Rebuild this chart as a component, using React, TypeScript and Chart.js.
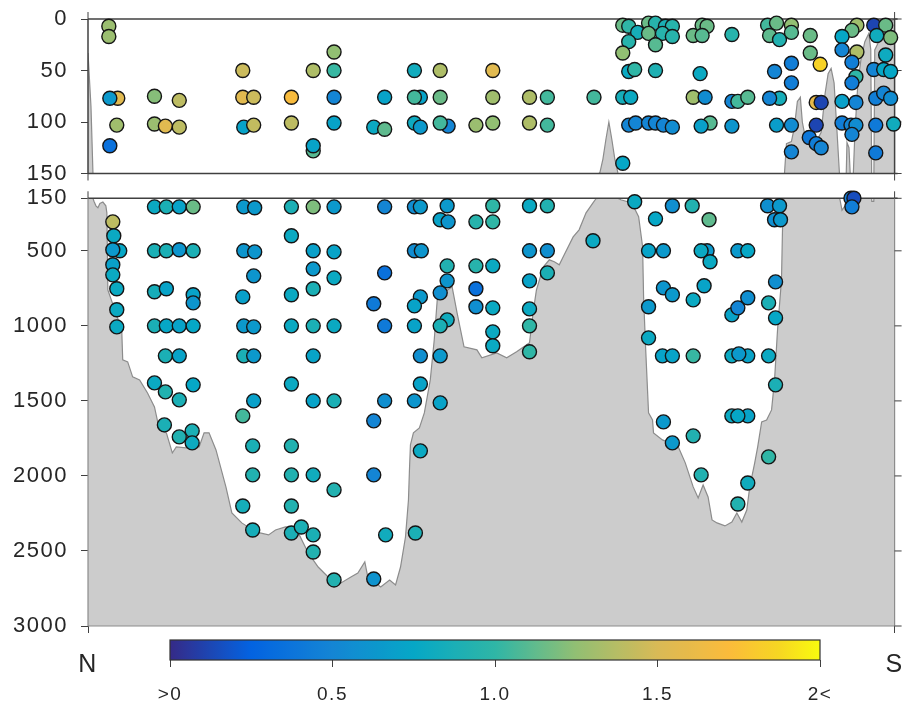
import React, { useEffect, useRef } from "react";
import { Chart, registerables } from "chart.js";

Chart.register(...registerables);

// ---------------- data ----------------
// distance along the section, N (0) to S (813), arbitrary section units
const sectionEnds = [0, 813];
const endLabels = ["N", "S"];
const upperRange = [0, 150];
const lowerRange = [150, 3000];
const upperTicks = [0, 50, 100, 150];
const lowerTicks = [150, 500, 1000, 1500, 2000, 2500, 3000];
const colorbarRange = [0, 2];
const colorbarTicks = [0, 0.5, 1, 1.5, 2];
const colorbarLabels = [">0", "0.5", "1.0", "1.5", "2<"];

// sea floor profile (depth, m)
const bathyDist = [
  0, 3, 5, 6, 8, 10, 12, 15, 18, 19,
  20, 34, 35, 40, 45, 52, 60, 67, 72, 79,
  85, 89, 99, 112, 117, 122, 129, 139, 145, 155,
  169, 182, 189, 199, 205, 212, 222, 232, 242, 255,
  265, 272, 279, 282, 295, 304, 310, 315, 320, 323,
  324, 325, 328, 334, 339, 345, 349, 352, 360, 367,
  372, 379, 392, 397, 412, 422, 432, 445, 449, 452,
  459, 465, 470, 475, 479, 489, 495, 502, 509, 512,
  516, 519, 522, 525, 528, 531, 534, 537, 544, 549,
  555, 559, 560, 562, 565, 569, 570, 579, 595, 602,
  610, 615, 620, 625, 629, 634, 642, 649, 654, 659,
  664, 667, 672, 675, 679, 684, 689, 692, 695, 699,
  700, 701, 702, 704, 709, 712, 715, 718, 720, 723,
  728, 733, 739, 743, 746, 749, 752, 755, 758, 760,
  763, 765, 767, 769, 771, 773, 776, 779, 783, 787,
  789, 790, 792, 793, 797, 801, 806, 813,
];
const bathyDepth = [
  33, 85, 150, 170, 200, 213, 185, 175, 200, 247,
  760, 1027, 1227, 1240, 1340, 1360, 1447, 1540, 1693, 1713,
  1847, 1807, 1813, 1807, 1713, 1713, 1827, 2073, 2247, 2313,
  2373, 2393, 2360, 2340, 2340, 2380, 2513, 2607, 2673, 2713,
  2673, 2647, 2573, 2673, 2740, 2693, 2727, 2607, 2407, 2160,
  1960, 1793, 1713, 1680, 1580, 1360, 1093, 827, 773, 740,
  913, 1140, 1160, 1213, 1180, 1213, 1173, 1113, 893, 760,
  607, 560, 573, 593, 540, 407, 360, 247, 180, 153,
  149, 136, 117, 100, 117, 136, 149, 160, 173, 193,
  273, 473, 807, 1140, 1580, 1627, 1713, 1760, 1807, 1913,
  2073, 2147, 2060, 2140, 2293, 2313, 2333, 2307, 2247, 2307,
  2227, 2073, 1913, 1807, 1640, 1627, 1560, 1360, 1027, 693,
  360, 160, 150, 121, 119, 105, 80, 76, 100, 115,
  119, 121, 110, 72, 53, 48, 62, 110, 160, 230,
  200, 120, 125, 165, 160, 110, 62, 40, 22, 14,
  30, 170, 170, 30, 22, 12, 4, 0,
];

// samples in the upper 150 m
const shallowDist = [
  21, 21, 30, 22, 29, 22,
  67, 67, 78, 92, 92,
  156, 156, 167, 157, 167, 205, 205,
  227, 227, 227, 248, 248, 248, 248,
  299, 288, 299, 329, 335, 329, 355, 355, 329, 335, 363, 355,
  408, 408, 391, 408, 445, 463, 445, 463, 510,
  539, 545, 554, 545, 539, 565, 572, 582, 589, 565, 579, 589, 572, 610, 619, 624, 619, 649,
  545, 551, 572, 617, 539, 547, 610, 622, 649, 655, 665,
  539, 545, 552, 565, 572, 580, 589, 627, 618, 649,
  685, 694, 709, 687, 697, 709, 728, 728, 738, 709, 692, 709, 697, 687, 694, 709, 709,
  734, 739, 734, 727, 734, 739,
  775, 770, 760, 760, 775, 770, 774, 770, 760, 774, 760, 769, 774, 770,
  792, 804, 795, 809, 804, 792, 802, 809, 794, 802, 809, 794, 812, 794,
];
const shallowDepth = [
  7, 17, 77, 77, 103, 123,
  75, 102, 104, 79, 105,
  50, 76, 76, 105, 103, 76, 101,
  50, 128, 123, 32, 50, 76, 101,
  76, 105, 107, 50, 76, 76, 50, 76, 101, 105, 104, 101,
  50, 76, 103, 101, 76, 76, 101, 103, 76,
  6, 7, 13, 22, 33, 4, 4, 7, 7, 14, 14, 17, 25, 16, 6, 7, 16, 15,
  51, 49, 50, 53, 76, 76, 76, 76, 80, 80, 76,
  140, 103, 101, 101, 101, 103, 105, 101, 104, 104,
  6, 4, 6, 16, 20, 13, 16, 33, 44, 43, 51, 62, 77, 77, 103, 103, 129,
  81, 81, 103, 115, 121, 125,
  6, 11, 17, 30, 32, 42, 56, 62, 80, 81, 101, 103, 103, 112,
  6, 6, 16, 18, 35, 49, 49, 51, 77, 72, 77, 103, 102, 130,
];
const shallowValue = [
  1.28, 1.28, 1.55, 0.65, 1.3, 0.35,
  1.22, 1.28, 1.55, 1.4, 1.4,
  1.45, 1.55, 1.45, 0.72, 1.42, 1.7, 1.4,
  1.35, 1.1, 0.72, 1.25, 1.02, 0.5, 0.72,
  0.72, 0.78, 1.12, 0.82, 0.72, 1.05, 1.35, 1.15, 0.8, 0.65, 0.5, 1.05,
  1.55, 1.3, 1.28, 1.25, 1.35, 1.05, 1.35, 1.05, 1.05,
  1.15, 1.0, 0.85, 0.95, 1.25, 1.15, 0.95, 0.88, 0.95, 1.15, 0.95, 0.95, 1.1, 1.15, 1.15, 1.15, 1.1, 0.95,
  0.78, 1.0, 0.9, 0.78, 0.85, 0.78, 1.3, 0.55, 0.5, 1.05, 1.1,
  0.75, 0.5, 0.5, 0.5, 0.5, 0.5, 0.55, 1.1, 0.7, 0.62,
  1.05, 1.15, 1.25, 1.12, 0.92, 1.1, 1.15, 1.15, 1.85, 0.45, 0.5, 0.45, 0.85, 0.5, 0.68, 0.55, 0.5,
  1.6, 0.12, 0.12, 0.4, 0.45, 0.5,
  1.3, 1.15, 0.75, 0.5, 1.35, 0.45, 1.0, 0.45, 0.7, 0.5, 0.45, 0.5, 0.55, 0.5,
  0.12, 1.15, 0.82, 1.2, 0.8, 0.5, 0.75, 0.75, 0.45, 0.5, 0.55, 0.42, 0.82, 0.42,
];

// samples from 150 m to the bottom
const deepDist = [
  25, 26, 32, 25, 25, 25, 29, 29, 29,
  67, 79, 92, 106, 67, 79, 92, 106, 67, 79, 106, 106, 67, 79, 92, 106,
  78, 92, 67, 78, 92, 106, 77, 92, 105, 105,
  157, 168, 157, 168, 167, 156, 157, 167, 157, 167, 167, 156, 166, 166, 156, 166,
  205, 205, 205, 205, 205, 205, 205, 205, 205, 215,
  227, 227, 227, 227, 227, 227, 227, 227, 227, 227,
  248, 248, 248, 248, 248, 248, 248,
  299, 299, 288, 299, 299, 288, 288, 288, 300,
  329, 335, 329, 336, 335, 329, 329, 335, 335, 329, 335, 330,
  362, 355, 363, 362, 362, 355, 362, 355, 355, 355,
  408, 391, 408, 391, 408, 391, 391, 408, 408, 408,
  445, 463, 445, 463, 463, 445, 445, 445, 445, 509,
  551, 589, 609, 572, 626, 685, 697, 692, 698,
  565, 580, 624, 618, 627, 655, 665,
  580, 589, 621, 610, 565, 649, 665, 655, 693, 686, 693,
  565, 579, 589, 610, 649, 665, 656, 686, 693,
  649, 665, 655, 580, 610, 589, 686, 618, 665, 655,
  769, 772, 770,
];
const deepDepth = [
  307, 400, 500, 493, 593, 660, 753, 893, 1007,
  207, 207, 207, 207, 500, 500, 493, 500, 773, 753, 793, 847, 1000, 1000, 1000, 1000,
  1200, 1200, 1380, 1440, 1493, 1393, 1660, 1740, 1700, 1780,
  207, 213, 500, 507, 667, 807, 1000, 1007, 1200, 1200, 1500, 1600, 1800, 1993, 2200, 2360,
  207, 400, 793, 1000, 1387, 1800, 1993, 2200, 2380, 2340,
  207, 500, 620, 753, 1000, 1200, 1500, 1993, 2393, 2507,
  207, 507, 680, 1000, 1500, 2093, 2693,
  207, 647, 853, 1000, 1500, 1633, 1993, 2687, 2393,
  207, 207, 500, 500, 807, 867, 1000, 1200, 1387, 1500, 1833, 2380,
  200, 293, 307, 600, 700, 780, 960, 1000, 1200, 1513,
  200, 307, 307, 600, 600, 753, 873, 880, 1040, 1133,
  200, 200, 500, 500, 647, 700, 887, 1000, 1173, 433,
  173, 200, 200, 287, 293, 200, 200, 293, 293,
  500, 500, 500, 500, 573, 500, 500,
  747, 793, 733, 827, 873, 927, 813, 880, 707, 847, 947,
  1080, 1200, 1200, 1200, 1200, 1200, 1187, 1200, 1393,
  1600, 1600, 1600, 1640, 1733, 1780, 1873, 1993, 2047, 2187,
  150, 150, 207,
];
const deepValue = [
  1.4, 0.78, 0.75, 0.65, 0.7, 0.78, 0.78, 0.78, 0.78,
  0.78, 0.88, 0.72, 1.15, 0.88, 0.88, 0.62, 0.88, 0.85, 0.72, 0.72, 0.62, 0.88, 0.75, 0.72, 0.75,
  0.88, 0.72, 0.78, 0.92, 0.88, 0.75, 0.88, 0.92, 0.88, 0.8,
  0.65, 0.65, 0.62, 0.62, 0.62, 0.7, 0.65, 0.65, 0.88, 0.65, 0.7, 1.05, 0.88, 0.92, 0.85, 0.85,
  0.88, 0.78, 0.78, 0.78, 0.78, 0.92, 0.92, 0.92, 0.88, 0.88,
  1.2, 0.7, 0.65, 0.88, 0.88, 0.72, 0.72, 0.82, 0.88, 0.92,
  0.65, 0.72, 0.78, 0.78, 0.88, 0.92, 0.92,
  0.5, 0.35, 0.42, 0.42, 0.57, 0.5, 0.5, 0.6, 0.82,
  0.55, 0.65, 0.55, 0.62, 0.65, 0.72, 0.72, 0.57, 0.72, 0.62, 0.78, 0.88,
  0.65, 0.72, 0.62, 0.92, 0.62, 0.57, 0.82, 0.88, 0.65, 0.72,
  1.0, 0.95, 1.0, 0.95, 0.78, 0.35, 0.57, 0.78, 0.78, 0.78,
  0.78, 0.92, 0.62, 0.57, 0.88, 0.72, 0.78, 1.0, 1.0, 0.78,
  0.78, 0.57, 0.92, 0.75, 1.12, 0.57, 0.65, 0.57, 0.65,
  0.72, 0.65, 0.65, 0.78, 0.78, 0.65, 0.75,
  0.62, 0.65, 0.72, 0.78, 0.65, 0.72, 0.57, 0.5, 0.57, 0.88, 0.75,
  0.78, 0.72, 0.72, 1.02, 0.78, 0.72, 0.65, 0.78, 0.88,
  0.78, 0.72, 0.75, 0.65, 0.92, 0.65, 1.0, 0.92, 0.82, 0.92,
  0.45, 0.15, 0.45,
];

// ---------------- colour map (parula-like) ----------------
const mapStops: [number, string][] = [
  [0, "#352a87"],
  [0.25, "#0363e1"],
  [0.5, "#1485d4"],
  [0.75, "#06a7c6"],
  [1.0, "#2fb6a6"],
  [1.25, "#92bf73"],
  [1.5, "#d9ba56"],
  [1.72, "#fbbb3b"],
  [1.87, "#f6d623"],
  [2.0, "#f9fb0e"],
];
function hexRgb(h: string) {
  return [1, 3, 5].map((i) => parseInt(h.slice(i, i + 2), 16));
}
function parula(v: number) {
  const t = Math.max(colorbarRange[0], Math.min(colorbarRange[1], v));
  for (let i = 1; i < mapStops.length; i++) {
    const [v1, c1] = mapStops[i];
    const [v0, c0] = mapStops[i - 1];
    if (t <= v1) {
      const f = (t - v0) / (v1 - v0);
      const a = hexRgb(c0);
      const b = hexRgb(c1);
      const c = a.map((x, k) => Math.round(x + (b[k] - x) * f));
      return `rgb(${c[0]},${c[1]},${c[2]})`;
    }
  }
  return mapStops[mapStops.length - 1][1];
}

// ---------------- styling ----------------
const FONT = "'Liberation Sans', Arial, Helvetica, sans-serif";
const TEXT = "#262626";
const AXIS = "#404040";
const SEAFLOOR_FILL = "#cccccc";
const SEAFLOOR_LINE = "#8c8c8c";

const spacingPlugin = {
  id: "spacing",
  beforeDraw(chart: any) {
    (chart.ctx as any).letterSpacing = "1.5px";
  },
};

const framePlugin = {
  id: "frame",
  afterDatasetDraw(chart: any, args: any, opts: any) {
    if (args.index !== 0) return;
    const { left, right, top, bottom } = chart.chartArea;
    const ctx = chart.ctx as CanvasRenderingContext2D;
    const seg = (x1: number, y1: number, x2: number, y2: number, c: string, w: number) => {
      ctx.beginPath();
      ctx.strokeStyle = c;
      ctx.lineWidth = w;
      ctx.moveTo(x1, y1);
      ctx.lineTo(x2, y2);
      ctx.stroke();
    };
    ctx.save();
    seg(left, top, right + 3, top, AXIS, 1.5);
    seg(left, top - 7, left, top, AXIS, 1);
    seg(right, top - 7, right, top, AXIS, 1);
    if (opts.deep) {
      seg(left, top, left, bottom, SEAFLOOR_LINE, 1.2);
      seg(right, top, right, bottom, SEAFLOOR_LINE, 1.2);
      seg(left, bottom, right, bottom, SEAFLOOR_LINE, 1.2);
    } else {
      seg(left, top, left, bottom, AXIS, 1.5);
      seg(right, top, right, bottom, AXIS, 1.5);
      seg(left, bottom, right + 3, bottom, AXIS, 1.5);
      seg(left, bottom, left, bottom + 7, AXIS, 1);
      seg(right, bottom, right, bottom + 7, AXIS, 1);
    }
    const ys = chart.scales.y;
    for (const t of ys.ticks) {
      const py = ys.getPixelForValue(t.value);
      seg(right, py, right + 7, py, AXIS, 1);
    }
    ctx.restore();
  },
};

const colorbarPlugin = {
  id: "colorbar",
  beforeDatasetsDraw(chart: any) {
    const { left, right, top, bottom } = chart.chartArea;
    const ctx = chart.ctx as CanvasRenderingContext2D;
    const g = ctx.createLinearGradient(left, 0, right, 0);
    const n = 64;
    for (let i = 0; i <= n; i++) {
      const v = colorbarRange[0] + ((colorbarRange[1] - colorbarRange[0]) * i) / n;
      g.addColorStop(i / n, parula(v));
    }
    ctx.save();
    ctx.fillStyle = g;
    ctx.fillRect(left, top, right - left, bottom - top);
    ctx.strokeStyle = "#333333";
    ctx.lineWidth = 1.2;
    ctx.strokeRect(left, top, right - left, bottom - top);
    ctx.restore();
  },
};

type PanelCfg = {
  range: number[];
  ticks: number[];
  dist: number[];
  depth: number[];
  value: number[];
  deep: boolean;
  padTop: number;
  padBottom: number;
};

function buildPanel(canvas: HTMLCanvasElement, cfg: PanelCfg) {
  return new Chart(canvas, {
    type: "scatter",
    data: {
      datasets: [
        {
          type: "line",
          label: "seafloor",
          data: bathyDist.map((x, i) => ({ x, y: bathyDepth[i] })),
          fill: { value: cfg.range[1] },
          backgroundColor: SEAFLOOR_FILL,
          borderColor: SEAFLOOR_LINE,
          borderWidth: 1.2,
          pointRadius: 0,
          tension: 0,
          order: 2,
        } as any,
        {
          type: "scatter",
          label: "samples",
          data: cfg.dist.map((x, i) => ({ x, y: cfg.depth[i] })),
          pointBackgroundColor: cfg.value.map(parula),
          pointBorderColor: "#151515",
          pointBorderWidth: 1.4,
          pointRadius: 7,
          clip: false,
          order: 1,
        } as any,
      ],
    },
    options: {
      animation: false,
      responsive: false,
      devicePixelRatio: 1,
      events: [],
      layout: { padding: { left: 0, right: 2, top: cfg.padTop, bottom: cfg.padBottom } },
      plugins: {
        legend: { display: false },
        tooltip: { enabled: false },
        frame: { deep: cfg.deep },
      } as any,
      scales: {
        x: {
          type: "linear",
          min: sectionEnds[0],
          max: sectionEnds[1],
          display: cfg.deep,
          position: "bottom",
          afterBuildTicks: (s: any) => {
            s.ticks = sectionEnds.map((v) => ({ value: v }));
          },
          afterFit: (s: any) => {
            s.height = cfg.deep ? 76 : 0;
            s.paddingLeft = 0;
            s.paddingRight = 0;
          },
          ticks: {
            autoSkip: false,
            maxRotation: 0,
            padding: 17,
            color: TEXT,
            font: { family: FONT, size: 25 },
            callback: (v: any) => endLabels[sectionEnds.indexOf(Number(v))] ?? "",
          },
          grid: { drawOnChartArea: false, tickLength: 7, color: AXIS, lineWidth: 1 },
          border: { display: false },
        },
        y: {
          type: "linear",
          reverse: true,
          min: cfg.range[0],
          max: cfg.range[1],
          afterBuildTicks: (s: any) => {
            s.ticks = cfg.ticks.map((v) => ({ value: v }));
          },
          afterFit: (s: any) => {
            s.width = 88;
            s.paddingTop = 0;
            s.paddingBottom = 0;
          },
          ticks: {
            autoSkip: false,
            padding: 13,
            color: TEXT,
            font: { family: FONT, size: 22 },
            callback: (v: any) => String(v),
          },
          grid: { drawOnChartArea: false, tickLength: 7, color: AXIS, lineWidth: 1 },
          border: { display: false },
        },
      },
    } as any,
    plugins: [spacingPlugin, framePlugin],
  });
}

function buildColorbar(canvas: HTMLCanvasElement) {
  return new Chart(canvas, {
    type: "scatter",
    data: { datasets: [] },
    options: {
      animation: false,
      responsive: false,
      devicePixelRatio: 1,
      events: [],
      layout: { padding: { left: 170, right: 83, top: 40, bottom: 0 } },
      plugins: { legend: { display: false }, tooltip: { enabled: false } },
      scales: {
        x: {
          type: "linear",
          min: colorbarRange[0],
          max: colorbarRange[1],
          position: "bottom",
          afterBuildTicks: (s: any) => {
            s.ticks = colorbarTicks.map((v) => ({ value: v }));
          },
          afterFit: (s: any) => {
            s.height = 42;
            s.paddingLeft = 0;
            s.paddingRight = 0;
          },
          ticks: {
            autoSkip: false,
            maxRotation: 0,
            padding: 16,
            color: TEXT,
            font: { family: FONT, size: 19 },
            callback: (v: any) => colorbarLabels[colorbarTicks.indexOf(Number(v))] ?? "",
          },
          grid: { drawOnChartArea: false, tickLength: 7, color: AXIS, lineWidth: 1 },
          border: { display: false },
        },
        y: { display: false, min: 0, max: 1 },
      },
    } as any,
    plugins: [spacingPlugin, colorbarPlugin],
  });
}

export default function App() {
  const upperRef = useRef<HTMLCanvasElement>(null);
  const lowerRef = useRef<HTMLCanvasElement>(null);
  const barRef = useRef<HTMLCanvasElement>(null);

  useEffect(() => {
    const upper = buildPanel(upperRef.current!, {
      range: upperRange,
      ticks: upperTicks,
      dist: shallowDist,
      depth: shallowDepth,
      value: shallowValue,
      deep: false,
      padTop: 19,
      padBottom: 16.5,
    });
    const lower = buildPanel(lowerRef.current!, {
      range: lowerRange,
      ticks: lowerTicks,
      dist: deepDist,
      depth: deepDepth,
      value: deepValue,
      deep: true,
      padTop: 18.3,
      padBottom: 0,
    });
    const bar = buildColorbar(barRef.current!);
    return () => {
      upper.destroy();
      lower.destroy();
      bar.destroy();
    };
  }, []);

  return (
    <div
      style={{
        position: "fixed",
        left: 0,
        top: 0,
        width: 903,
        height: 702,
        background: "#ffffff",
        overflow: "hidden",
      }}
    >
      <canvas ref={upperRef} width={903} height={190} style={{ position: "absolute", left: 0, top: 0 }} />
      <canvas ref={lowerRef} width={903} height={522} style={{ position: "absolute", left: 0, top: 180 }} />
      <canvas ref={barRef} width={903} height={102} style={{ position: "absolute", left: 0, top: 600 }} />
    </div>
  );
}
